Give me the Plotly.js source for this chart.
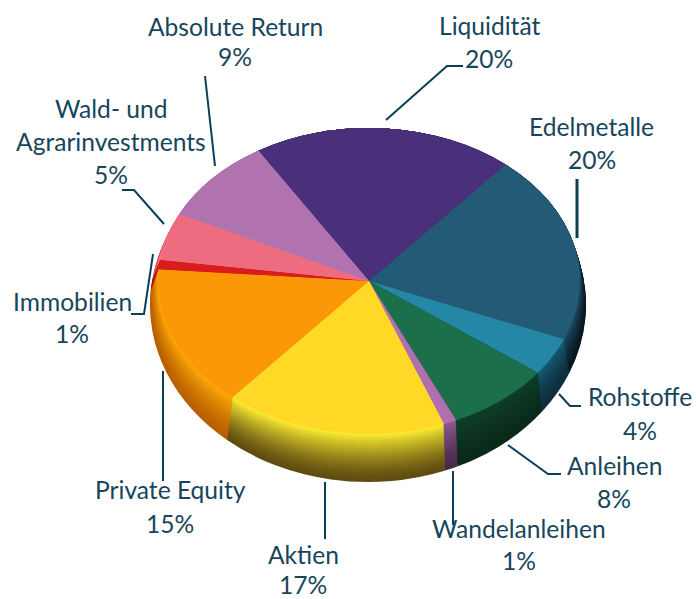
<!DOCTYPE html>
<html><head><meta charset="utf-8">
<script src="https://cdn.plot.ly/plotly-3.0.1.min.js"></script>
<style>html,body{margin:0;padding:0;background:#fff}#c{width:696px;height:599px}</style>
</head><body><div id="c"></div>
<script>
var W = 696, H = 599;
var categories = ['Liquidität','Edelmetalle','Rohstoffe','Anleihen','Wandelanleihen','Aktien','Private Equity','Immobilien','Wald- und Agrarinvestments','Absolute Return'];
var values = [20,20,4,8,1,17,15,1,5,9];
var faceColors = ['#4a2f7a','#235a75','#2487a6','#1b6f4b','#b070b0','#ffd926','#fa9807','#d91c1c','#ee6c80','#b073b0'];
var rimTop     = ['#4a2f7a','#1e4a62','#17596f','#0f3f2a','#8f5c90','#fff033','#ffaa08','#e02020','#ff7a90','#b880b8'];
var rimBottom  = ['#4a2f7a','#08171f','#0e2e3d','#0b2a1a','#4a2a4a','#5f4c10','#b85f00','#b01010','#d05060','#a060a0'];
var rotationDeg = -31.6;
var rimSteps = 32;
// ellipses in pixels
var silhouette = {cx:368, cy:305, rx:218, ry:177};
var face = {cx:369, cy:281, rx:211, ry:153};

var labelTexts = ['Absolute Return','9%','Liquidität','20%','Edelmetalle','20%','Wald- und','Agrarinvestments','5%','Immobilien','1%','Private Equity','15%','Aktien','17%','Wandelanleihen','1%','Anleihen','8%','Rohstoffe','4%'];
var labelX = [235,235,489,489,591,592,111,111,111,72,72,170,170,303,303,519,519,614,614,640,640];
var labelY = [26,57,25,58,126,159,109,142,175,301,333,490,523,554,584,528,560,465,498,396,430];
var leaders = [
 [[205,76],[215,166]],
 [[122,190],[134,190],[164,224]],
 [[153,254],[144,314],[131,314]],
 [[463,66],[447,66],[386,120]],
 [[577,179],[577,238]],
 [[163,371],[163,481]],
 [[325,482],[325,539]],
 [[453,471],[453,525]],
 [[508,445],[548,474],[561,474]],
 [[559,394],[570,406],[581,406]]
];
var textColor = '#17465c', lineColor = '#0b3f56';

function hex(c){return [1,3,5].map(function(i){return parseInt(c.substr(i,2),16);});}
function mix(a,b,t){var x=hex(a),y=hex(b);return 'rgb('+x.map(function(v,i){return Math.round(v+(y[i]-v)*t);}).join(',')+')';}
function pieTrace(e,colors){
  return {type:'pie',labels:categories,values:values,sort:false,direction:'clockwise',rotation:rotationDeg,
    textinfo:'none',hoverinfo:'skip',showlegend:false,
    marker:{colors:colors,line:{width:0}},
    domain:{x:[(e.cx-e.rx)/W,(e.cx+e.rx)/W],y:[0.5-e.rx/H,0.5+e.rx/H]}};
}
var ellipses=[], traces=[];
for(var s=0;s<rimSteps;s++){
  var t=s/(rimSteps-1);
  var e={cx:silhouette.cx+(face.cx-silhouette.cx)*t,cy:silhouette.cy+(face.cy-silhouette.cy)*t,
         rx:silhouette.rx+(face.rx-silhouette.rx)*t,ry:silhouette.ry+(face.ry-silhouette.ry)*t};
  var k=Math.pow(t,1.4);
  ellipses.push(e);
  traces.push(pieTrace(e,rimBottom.map(function(c,i){return mix(c,rimTop[i],k);})));
}
ellipses.push(face);
traces.push(pieTrace(face,faceColors));

var annotations=labelTexts.map(function(tx,i){
  return {text:tx,xref:'paper',yref:'paper',x:labelX[i]/W,y:1-labelY[i]/H,xanchor:'center',yanchor:'middle',showarrow:false,
    font:{family:'Lato, "Open Sans", sans-serif',size:24.6,color:textColor}};
});
var shapes=leaders.map(function(p,i){
  return {type:'path',xref:'paper',yref:'paper',layer:'above',
    path:p.map(function(q,j){return (j?'L':'M')+(q[0]/W)+','+(1-q[1]/H);}).join(' '),
    line:{color:lineColor,width:i===4?3:2}};
});
var layout={width:W,height:H,margin:{l:0,r:0,t:0,b:0},paper_bgcolor:'#fff',showlegend:false,annotations:annotations,shapes:shapes};
function squash(){
  document.querySelectorAll('#c .pielayer .trace').forEach(function(g,i){
    var e=ellipses[i]; if(!e) return;
    g.setAttribute('transform','translate(0,'+e.cy+') scale(1,'+(e.ry/e.rx)+') translate(0,'+(-H/2)+')');
  });
}
Plotly.newPlot('c',traces,layout,{displayModeBar:false,staticPlot:true}).then(squash);
</script></body></html>
